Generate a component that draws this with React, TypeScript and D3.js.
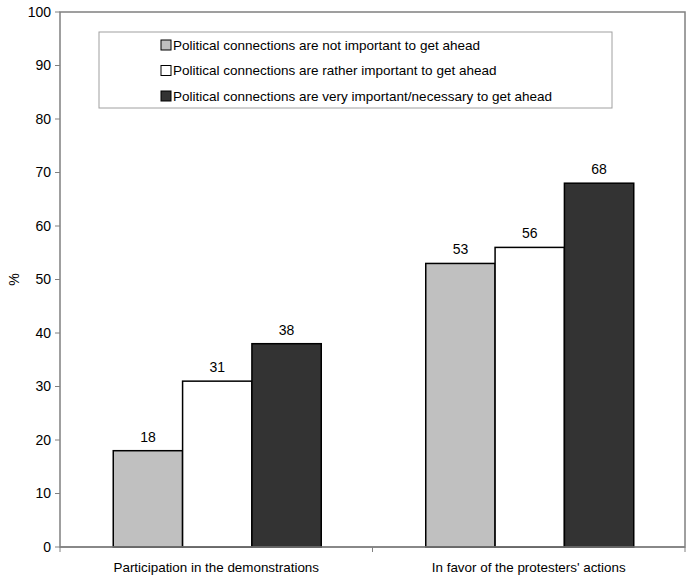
import React from "react";
import * as d3 from "d3";

const categories = ["Participation in the demonstrations", "In favor of the protesters' actions"];
const seriesNames = [
  "Political connections are not important to get ahead",
  "Political connections are rather important to get ahead",
  "Political connections are very important/necessary to get ahead",
];
const seriesColors = ["#c0c0c0", "#ffffff", "#333333"];
const notImportant = [18, 53];
const ratherImportant = [31, 56];
const veryImportant = [38, 68];
const yTicks = [0, 10, 20, 30, 40, 50, 60, 70, 80, 90, 100];

const seriesValues = [notImportant, ratherImportant, veryImportant];

export default function App() {
  const W = 700, H = 586;
  const left = 60, right = 685, top = 12, bottom = 547;
  const y = d3.scaleLinear().domain([0, 100]).range([bottom, top]);
  const x0 = d3.scaleBand().domain(categories).range([left, right]).paddingInner(0).paddingOuter(0);
  const groupW = 208;
  const x1 = d3.scaleBand<number>().domain([0, 1, 2]).range([0, groupW]).padding(0);
  const font = "Liberation Sans, Arial, sans-serif";
  return (
    <svg width={W} height={H} style={{ position: "absolute", left: 0, top: 0, background: "#fff" }} fontFamily={font}>
      <rect x={left} y={top} width={right - left} height={bottom - top} fill="#fff" stroke="#808080" strokeWidth={1.5} />
      {yTicks.map((t) => (
        <g key={t}>
          <line x1={left - 5} x2={left} y1={y(t)} y2={y(t)} stroke="#808080" />
          <text x={left - 9} y={y(t)} dy="0.35em" textAnchor="end" fontSize={14} fill="#000">{t}</text>
        </g>
      ))}
      {[left, left + x0.bandwidth(), right].map((xx, i) => (
        <line key={i} x1={xx} x2={xx} y1={bottom} y2={bottom + 5} stroke="#808080" />
      ))}
      <text transform={`translate(19,${(top + bottom) / 2}) rotate(-90)`} textAnchor="middle" fontSize={14}>%</text>
      {categories.map((c, ci) => {
        const gx = (x0(c) as number) + (x0.bandwidth() - groupW) / 2 + 1;
        return (
          <g key={c}>
            {seriesValues.map((vals, si) => {
              const bx = gx + (x1(si) as number);
              return (
                <g key={si}>
                  <rect x={bx} y={y(vals[ci])} width={x1.bandwidth()} height={bottom - y(vals[ci])} fill={seriesColors[si]} stroke="#000" strokeWidth={1.5} />
                  <text x={bx + x1.bandwidth() / 2} y={y(vals[ci]) - 9} textAnchor="middle" fontSize={14}>{vals[ci]}</text>
                </g>
              );
            })}
            <text x={(x0(c) as number) + x0.bandwidth() / 2} y={572} textAnchor="middle" fontSize={13.4}>{c}</text>
          </g>
        );
      })}
      <line x1={left} x2={right} y1={bottom} y2={bottom} stroke="#808080" strokeWidth={1.5} />
      <rect x={99} y={32} width={513} height={76} fill="#fff" stroke="#a0a0a0" strokeWidth={1} />
      {seriesNames.map((n, i) => (
        <g key={n}>
          <rect x={161} y={40 + i * 25.5} width={10} height={10} fill={seriesColors[i]} stroke="#000" strokeWidth={1} />
          <text x={173} y={45 + i * 25.5} dy="0.35em" fontSize={13.5}>{n}</text>
        </g>
      ))}
    </svg>
  );
}
